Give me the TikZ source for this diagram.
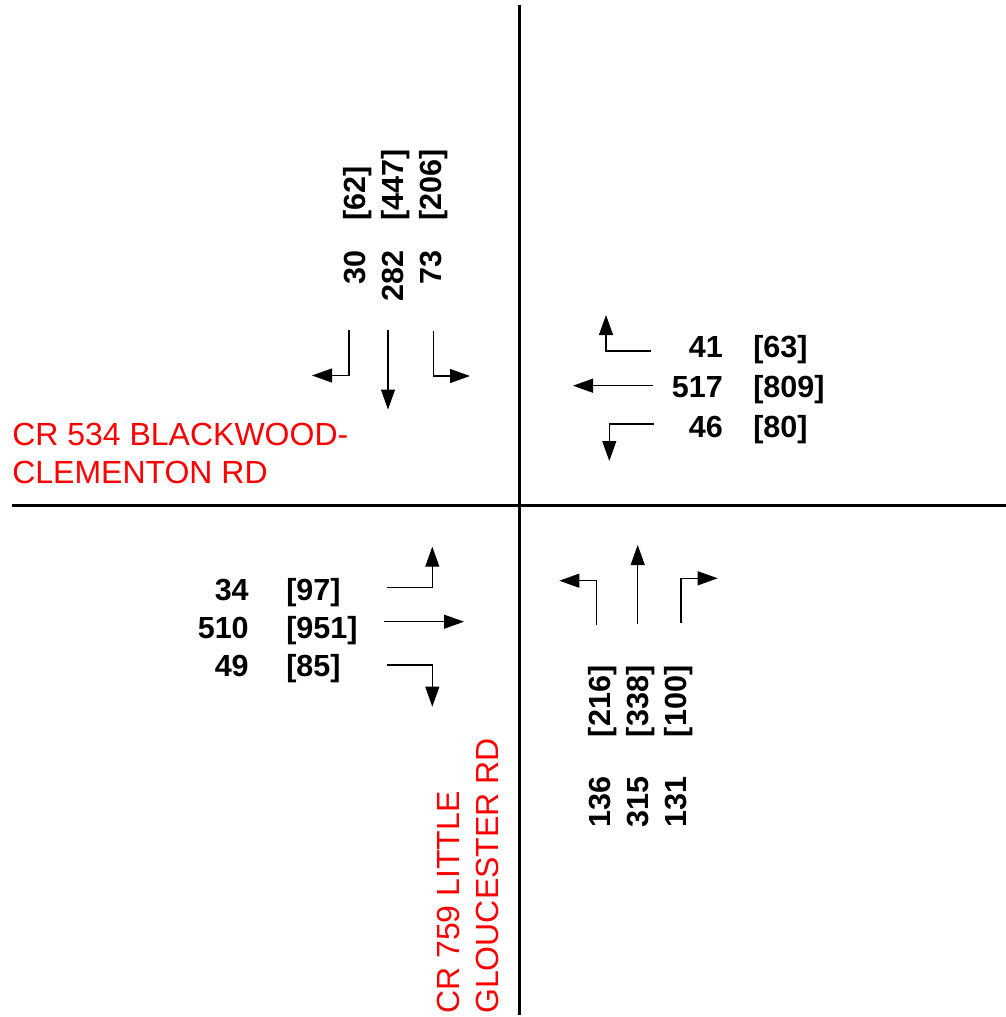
\documentclass[tikz,border=0pt]{standalone}
\usepackage{fontspec}
\setmainfont{Liberation Sans}
\usetikzlibrary{arrows.meta}
\begin{document}
\begin{tikzpicture}[x=0.75pt,y=-0.75pt,
  road/.style={line width=2.25pt},
  mv/.style={line width=0.8pt,-{Triangle[length=15pt,width=10.5pt]}},
  vol/.style={font=\fontsize{22.9pt}{27pt}\selectfont\bfseries, inner sep=0pt},
  vvol/.style={vol, rotate=90},
  lbl/.style={font=\fontsize{24pt}{29pt}\selectfont, text=red, inner sep=0pt},
]
\useasboundingbox (0,0) rectangle (1006,1017);
% roads
\coordinate (vN) at (519,5); \coordinate (vS) at (519,1015);
\coordinate (hW) at (12,505); \coordinate (hE) at (1006,505);
\draw[road] (vN) -- (vS);
\draw[road] (hW) -- (hE);
% southbound movements
\coordinate (sbL0) at (349,330); \coordinate (sbL1) at (349,375.5); \coordinate (sbL2) at (312,375.5);
\coordinate (sbT0) at (388,330); \coordinate (sbT1) at (388,409.5);
\coordinate (sbR0) at (433.5,331); \coordinate (sbR1) at (433.5,376); \coordinate (sbR2) at (470,376);
\draw[mv] (sbL0) -- (sbL1) -- (sbL2);
\draw[mv] (sbT0) -- (sbT1);
\draw[mv] (sbR0) -- (sbR1) -- (sbR2);
% westbound movements
\coordinate (wbL0) at (651,351); \coordinate (wbL1) at (606,351); \coordinate (wbL2) at (606,315);
\coordinate (wbT0) at (653,385.7); \coordinate (wbT1) at (573,385.7);
\coordinate (wbR0) at (654,424); \coordinate (wbR1) at (609.3,424); \coordinate (wbR2) at (609.3,461);
\draw[mv] (wbL0) -- (wbL1) -- (wbL2);
\draw[mv] (wbT0) -- (wbT1);
\draw[mv] (wbR0) -- (wbR1) -- (wbR2);
% eastbound movements
\coordinate (ebL0) at (387.3,587.7); \coordinate (ebL1) at (432.3,587.7); \coordinate (ebL2) at (432.3,546.7);
\coordinate (ebT0) at (384.3,621.7); \coordinate (ebT1) at (464,621.7);
\coordinate (ebR0) at (387.3,665); \coordinate (ebR1) at (432.3,665); \coordinate (ebR2) at (432.3,706.7);
\draw[mv] (ebL0) -- (ebL1) -- (ebL2);
\draw[mv] (ebT0) -- (ebT1);
\draw[mv] (ebR0) -- (ebR1) -- (ebR2);
% northbound movements
\coordinate (nbL0) at (596.7,625); \coordinate (nbL1) at (596.7,580.7); \coordinate (nbL2) at (559.3,580.7);
\coordinate (nbT0) at (637.7,624.3); \coordinate (nbT1) at (637.7,545);
\coordinate (nbR0) at (681,622.7); \coordinate (nbR1) at (681,578.3); \coordinate (nbR2) at (717.7,578.3);
\draw[mv] (nbL0) -- (nbL1) -- (nbL2);
\draw[mv] (nbT0) -- (nbT1);
\draw[mv] (nbR0) -- (nbR1) -- (nbR2);
% southbound volumes
\node[vvol, anchor=base west] (sbLp) at (365,220.7) {[62]};
\node[vvol, anchor=base west] (sbTp) at (403.3,220.7) {[447]};
\node[vvol, anchor=base west] (sbRp) at (441.7,220.7) {[206]};
\node[vvol, anchor=base east] (sbLa) at (365,250) {30};
\node[vvol, anchor=base east] (sbTa) at (403.3,250) {282};
\node[vvol, anchor=base east] (sbRa) at (441.7,250) {73};
% northbound volumes
\node[vvol, anchor=base west] (nbLp) at (610,737.3) {[216]};
\node[vvol, anchor=base west] (nbTp) at (648.3,737.3) {[338]};
\node[vvol, anchor=base west] (nbRp) at (686.7,737.3) {[100]};
\node[vvol, anchor=base east] (nbLa) at (610,776.7) {136};
\node[vvol, anchor=base east] (nbTa) at (648.3,776.7) {315};
\node[vvol, anchor=base east] (nbRa) at (686.7,776.7) {131};
% westbound volumes
\node[vol, anchor=base east] (wbLa) at (723,357) {41};
\node[vol, anchor=base east] (wbTa) at (723,397) {517};
\node[vol, anchor=base east] (wbRa) at (723,437) {46};
\node[vol, anchor=base west] (wbLp) at (753,357) {[63]};
\node[vol, anchor=base west] (wbTp) at (753,397) {[809]};
\node[vol, anchor=base west] (wbRp) at (753,437) {[80]};
% eastbound volumes
\node[vol, anchor=base east] (ebLa) at (249,600) {34};
\node[vol, anchor=base east] (ebTa) at (249,638.3) {510};
\node[vol, anchor=base east] (ebRa) at (249,676.7) {49};
\node[vol, anchor=base west] (ebLp) at (286,600) {[97]};
\node[vol, anchor=base west] (ebTp) at (286,638.3) {[951]};
\node[vol, anchor=base west] (ebRp) at (286,676.7) {[85]};
% street names
\node[lbl, anchor=base west] (ew1) at (12,445) {CR 534 BLACKWOOD-};
\node[lbl, anchor=base west] (ew2) at (12,483.3) {CLEMENTON RD};
\node[lbl, rotate=90, anchor=base west] (ns1) at (459.5,1014) {CR 759 LITTLE};
\node[lbl, rotate=90, anchor=base west] (ns2) at (498,1014) {GLOUCESTER RD};
\end{tikzpicture}
\end{document}
